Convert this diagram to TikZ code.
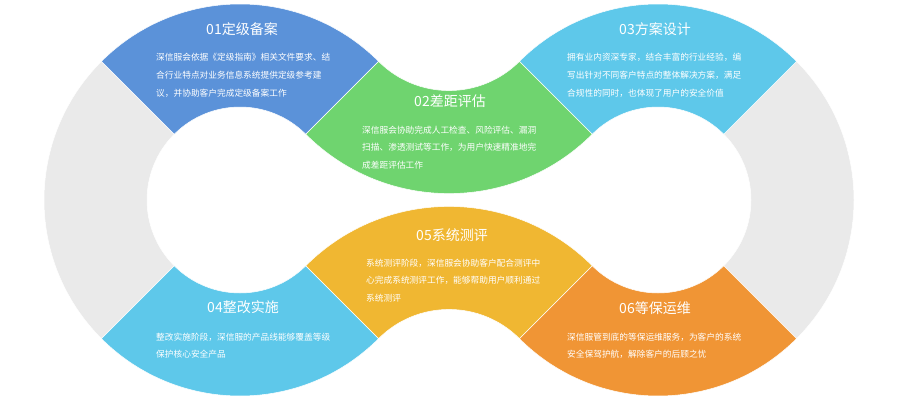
\documentclass[tikz,border=0pt]{standalone}
\usepackage{fontspec}
\newfontfamily\cjk{Noto Sans CJK SC}
\definecolor{cblue}{RGB}{91,146,217}
\definecolor{cgreen}{RGB}{111,212,111}
\definecolor{ccyan}{RGB}{94,200,234}
\definecolor{cyellow}{RGB}{240,183,50}
\definecolor{corange}{RGB}{240,149,53}
\definecolor{cgray}{RGB}{234,234,234}
\newcommand{\annsec}[6]{%
  \fill[#1,draw=white,line width=0.5pt,shift={#2}] (#3:#5) arc[start angle=#3,end angle=#4,radius=#5] -- (#4:#6) arc[start angle=#4,end angle=#3,radius=#6] -- cycle;}
\tikzset{
  ttl/.style={anchor=base,inner sep=0pt,text=white,font=\cjk\fontsize{14}{16}\selectfont},
  bdy/.style={anchor=base west,inner sep=0pt,text=white,font=\cjk\fontsize{8.7}{10}\selectfont}
}
\begin{document}
\begin{tikzpicture}[x=1pt,y=1pt]
\useasboundingbox (0,0) rectangle (900,400);
% left ring (center 240,200)
\annsec{cgray}{(240,200)}{135}{225}{196}{93}
\annsec{cblue}{(240,200)}{45}{135}{196}{93}
\annsec{ccyan}{(240,200)}{225}{315}{196}{93}
% right ring (center 658,200)
\annsec{cgray}{(658,200)}{-45}{45}{196}{93}
\annsec{ccyan}{(658,200)}{45}{135}{196}{93}
\annsec{corange}{(658,200)}{225}{315}{196}{93}
% top middle (green) and bottom middle (yellow)
\annsec{cgreen}{(449,409)}{225}{315}{202.57}{99.57}
\annsec{cyellow}{(449,-9)}{45}{135}{202.57}{99.57}
% texts 01
\node[ttl] (t1) at (242,365) {01定级备案};
\node[bdy] (b1a) at (156,339) {深信服会依据《定级指南》相关文件要求、结};
\node[bdy] (b1b) at (156,321.5) {合行业特点对业务信息系统提供定级参考建};
\node[bdy] (b1c) at (156,304) {议，并协助客户完成定级备案工作};
% 02
\node[ttl] (t2) at (450,294) {02差距评估};
\node[bdy] (b2a) at (362,267) {深信服会协助完成人工检查、风险评估、漏洞};
\node[bdy] (b2b) at (362,249.5) {扫描、渗透测试等工作，为用户快速精准地完};
\node[bdy] (b2c) at (362,232) {成差距评估工作};
% 03
\node[ttl] (t3) at (655,365) {03方案设计};
\node[bdy] (b3a) at (567,339) {拥有业内资深专家，结合丰富的行业经验，编};
\node[bdy] (b3b) at (567,321.5) {写出针对不同客户特点的整体解决方案，满足};
\node[bdy] (b3c) at (567,304) {合规性的同时，也体现了用户的安全价值};
% 05
\node[ttl] (t5) at (452,160) {05系统测评};
\node[bdy] (b5a) at (366,134) {系统测评阶段，深信服会协助客户配合测评中};
\node[bdy] (b5b) at (366,116.5) {心完成系统测评工作，能够帮助用户顺利通过};
\node[bdy] (b5c) at (366,99) {系统测评};
% 04
\node[ttl] (t4) at (243,88) {04整改实施};
\node[bdy] (b4a) at (156,60) {整改实施阶段，深信服的产品线能够覆盖等级};
\node[bdy] (b4b) at (156,42.5) {保护核心安全产品};
% 06
\node[ttl] (t6) at (655,87) {06等保运维};
\node[bdy] (b6a) at (567,60) {深信服管到底的等保运维服务，为客户的系统};
\node[bdy] (b6b) at (567,42.5) {安全保驾护航，解除客户的后顾之忧};
\end{tikzpicture}
\end{document}
